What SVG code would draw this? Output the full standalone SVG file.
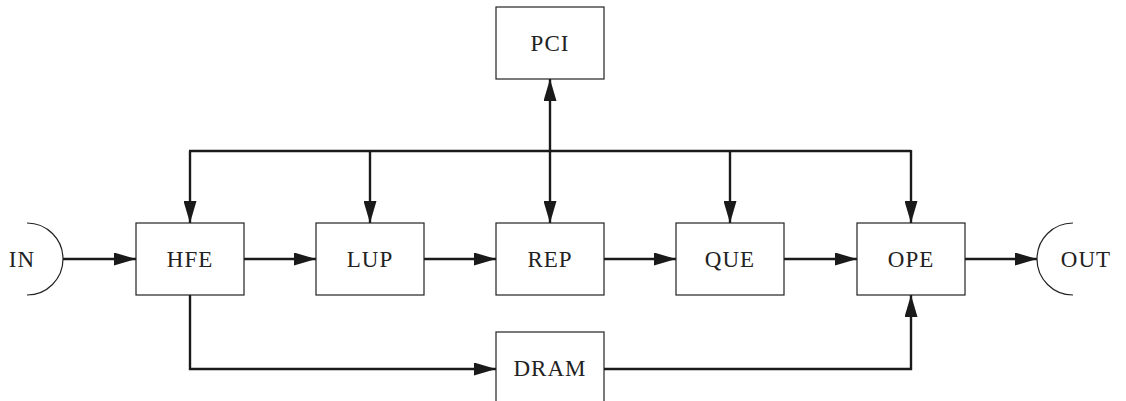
<svg xmlns="http://www.w3.org/2000/svg" width="1126" height="401" viewBox="0 0 1126 401">
<style>
.box{fill:#fff;stroke:#222;stroke-width:1.2}
.lbl{font-family:"Liberation Serif","Times New Roman",serif;font-size:23px;fill:#222;text-anchor:middle;dominant-baseline:central;letter-spacing:1px}
.wire{fill:none;stroke:#1a1a1a;stroke-width:2.4}
.port{fill:none;stroke:#222;stroke-width:1.2}
</style>
<defs>
<marker id="ah" markerUnits="userSpaceOnUse" markerWidth="23" markerHeight="13" refX="22" refY="6.5" orient="auto">
<path d="M0,0 L22,6.5 L0,13 z" fill="#1a1a1a"/>
</marker>
</defs>
<rect width="1126" height="401" fill="#fff"/>
<g id="connectors">
<line class="wire" x1="63" y1="259" x2="136" y2="259" marker-end="url(#ah)"/>
<line class="wire" x1="244" y1="259" x2="316" y2="259" marker-end="url(#ah)"/>
<line class="wire" x1="424" y1="259" x2="496" y2="259" marker-end="url(#ah)"/>
<line class="wire" x1="604" y1="259" x2="676" y2="259" marker-end="url(#ah)"/>
<line class="wire" x1="784" y1="259" x2="857" y2="259" marker-end="url(#ah)"/>
<line class="wire" x1="965" y1="259" x2="1037" y2="259" marker-end="url(#ah)"/>
<line class="wire" x1="189" y1="151" x2="911" y2="151"/>
<line class="wire" x1="190" y1="151" x2="190" y2="223" marker-end="url(#ah)"/>
<line class="wire" x1="370" y1="151" x2="370" y2="223" marker-end="url(#ah)"/>
<line class="wire" x1="550" y1="151" x2="550" y2="223" marker-end="url(#ah)"/>
<line class="wire" x1="730" y1="151" x2="730" y2="223" marker-end="url(#ah)"/>
<line class="wire" x1="911" y1="150" x2="911" y2="223" marker-end="url(#ah)"/>
<line class="wire" x1="550" y1="152" x2="550" y2="79" marker-end="url(#ah)"/>
<polyline class="wire" points="190,295 190,369 496,369" marker-end="url(#ah)"/>
<polyline class="wire" points="604,369 911,369 911,295" marker-end="url(#ah)"/>
</g>
<g id="IN">
<path class="port" d="M27,223 A36,36 0 0 1 27,295"/>
<text class="lbl" x="22" y="259">IN</text>
</g>
<g id="OUT">
<path class="port" d="M1073,223 A36,36 0 0 0 1073,295"/>
<text class="lbl" x="1086" y="259">OUT</text>
</g>
<g id="PCI">
<rect class="box" x="496" y="7" width="108" height="72"/>
<text class="lbl" x="550" y="43">PCI</text>
</g>
<g id="HFE">
<rect class="box" x="136" y="223" width="108" height="72"/>
<text class="lbl" x="190" y="259">HFE</text>
</g>
<g id="LUP">
<rect class="box" x="316" y="223" width="108" height="72"/>
<text class="lbl" x="370" y="259">LUP</text>
</g>
<g id="REP">
<rect class="box" x="496" y="223" width="108" height="72"/>
<text class="lbl" x="550" y="259">REP</text>
</g>
<g id="QUE">
<rect class="box" x="676" y="223" width="108" height="72"/>
<text class="lbl" x="730" y="259">QUE</text>
</g>
<g id="OPE">
<rect class="box" x="857" y="223" width="108" height="72"/>
<text class="lbl" x="911" y="259">OPE</text>
</g>
<g id="DRAM">
<rect class="box" x="496" y="332" width="108" height="72"/>
<text class="lbl" x="550" y="368">DRAM</text>
</g>
</svg>
